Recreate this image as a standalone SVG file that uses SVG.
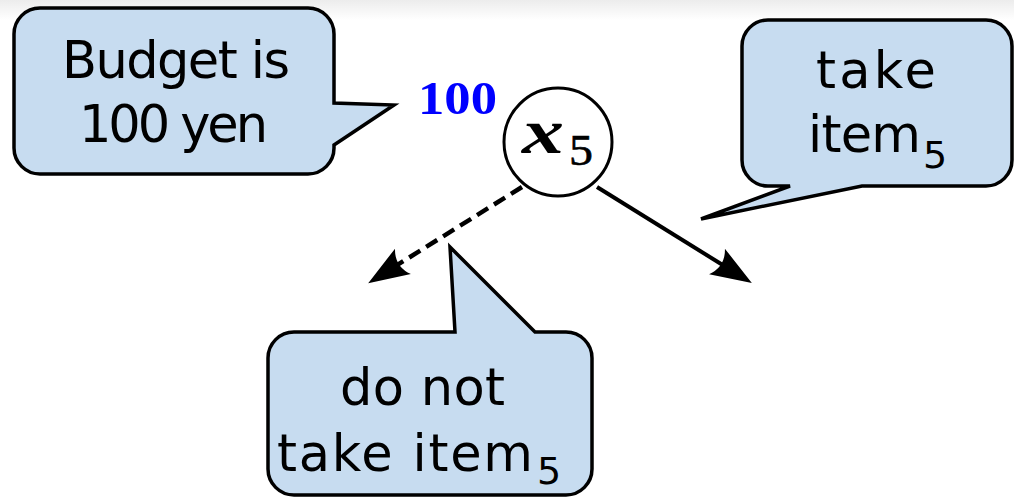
<svg xmlns="http://www.w3.org/2000/svg" width="1014" height="498" viewBox="0 0 1014 498">
  <defs>
    <linearGradient id="topShade" x1="0" y1="0" x2="0" y2="1">
      <stop offset="0" stop-color="#ececec"/>
      <stop offset="1" stop-color="#ffffff"/>
    </linearGradient>
    <!-- stealth-style arrow head; tip sits 21px beyond the line end -->
    <marker id="head" markerUnits="userSpaceOnUse" viewBox="-24 -18 48 36" markerWidth="48" markerHeight="36" refX="0" refY="0" orient="auto">
      <path d="M21,0 L-20,-15 Q-10,0 -20,15 Z" fill="#000"/>
    </marker>
    <style>
      .bubble { fill: #c7dcf0; stroke: #000; stroke-width: 3.5; stroke-linejoin: miter; }
      .say { font-family: "DejaVu Sans", sans-serif; font-size: 51px; fill: #000; }
      .sub { font-family: "DejaVu Sans", sans-serif; font-size: 38px; fill: #000; }
      .edge { fill: none; stroke: #000; stroke-width: 4; marker-end: url(#head); }
      .dashed { stroke-width: 4.5; stroke-dasharray: 13 7; }
    </style>
  </defs>

  <rect x="0" y="0" width="1014" height="498" fill="#fff"/>
  <rect x="0" y="0" width="1014" height="20" fill="url(#topShade)"/>

  <!-- connectors -->
  <g id="connectors">
    <line class="edge dashed" x1="522" y1="187" x2="386" y2="272"/>
    <line class="edge" x1="597" y1="187" x2="734" y2="272"/>
  </g>

  <!-- decision node -->
  <g id="node-x5">
    <circle cx="558" cy="142" r="54" fill="#fff" stroke="#000" stroke-width="3"/>
    <text x="522" y="153" font-family="Liberation Serif, serif" font-weight="bold" font-style="italic" font-size="64" textLength="42" lengthAdjust="spacingAndGlyphs">x</text>
    <text x="569" y="165" font-family="Liberation Serif, serif" font-size="44" stroke="#000" stroke-width="0.6" textLength="24" lengthAdjust="spacingAndGlyphs">5</text>
  </g>

  <!-- remaining budget -->
  <g id="label-budget-value">
    <text x="418" y="114" font-family="Liberation Serif, serif" font-weight="bold" font-size="46" fill="#0000ff" textLength="79" lengthAdjust="spacingAndGlyphs">100</text>
  </g>

  <g id="callout-budget">
    <path class="bubble" d="M40,8 H308 A26,26 0 0 1 334,34 V103 L394,105 L334,145 V148 A26,26 0 0 1 308,174 H40 A26,26 0 0 1 14,148 V34 A26,26 0 0 1 40,8 Z"/>
    <text class="say" x="62" y="78" textLength="228">Budget is</text>
    <text class="say" x="79" y="142" textLength="189">100 yen</text>
  </g>

  <g id="callout-take">
    <path class="bubble" d="M768,20 H986 A26,26 0 0 1 1012,46 V160 A26,26 0 0 1 986,186 H862 L701,219 L790,186 H768 A26,26 0 0 1 742,160 V46 A26,26 0 0 1 768,20 Z"/>
    <text class="say" x="816" y="88" textLength="120">take</text>
    <text class="say" x="808" y="152" textLength="113">item</text>
    <text class="sub" x="923" y="168">5</text>
  </g>

  <g id="callout-skip">
    <path class="bubble" d="M294,332 H455 L450,247 L535,332 H566 A26,26 0 0 1 592,358 V469 A26,26 0 0 1 566,495 H294 A26,26 0 0 1 268,469 V358 A26,26 0 0 1 294,332 Z"/>
    <text class="say" x="340" y="405" textLength="165">do not</text>
    <text class="say" x="277" y="471" textLength="256">take item</text>
    <text class="sub" x="537" y="484">5</text>
  </g>
</svg>
